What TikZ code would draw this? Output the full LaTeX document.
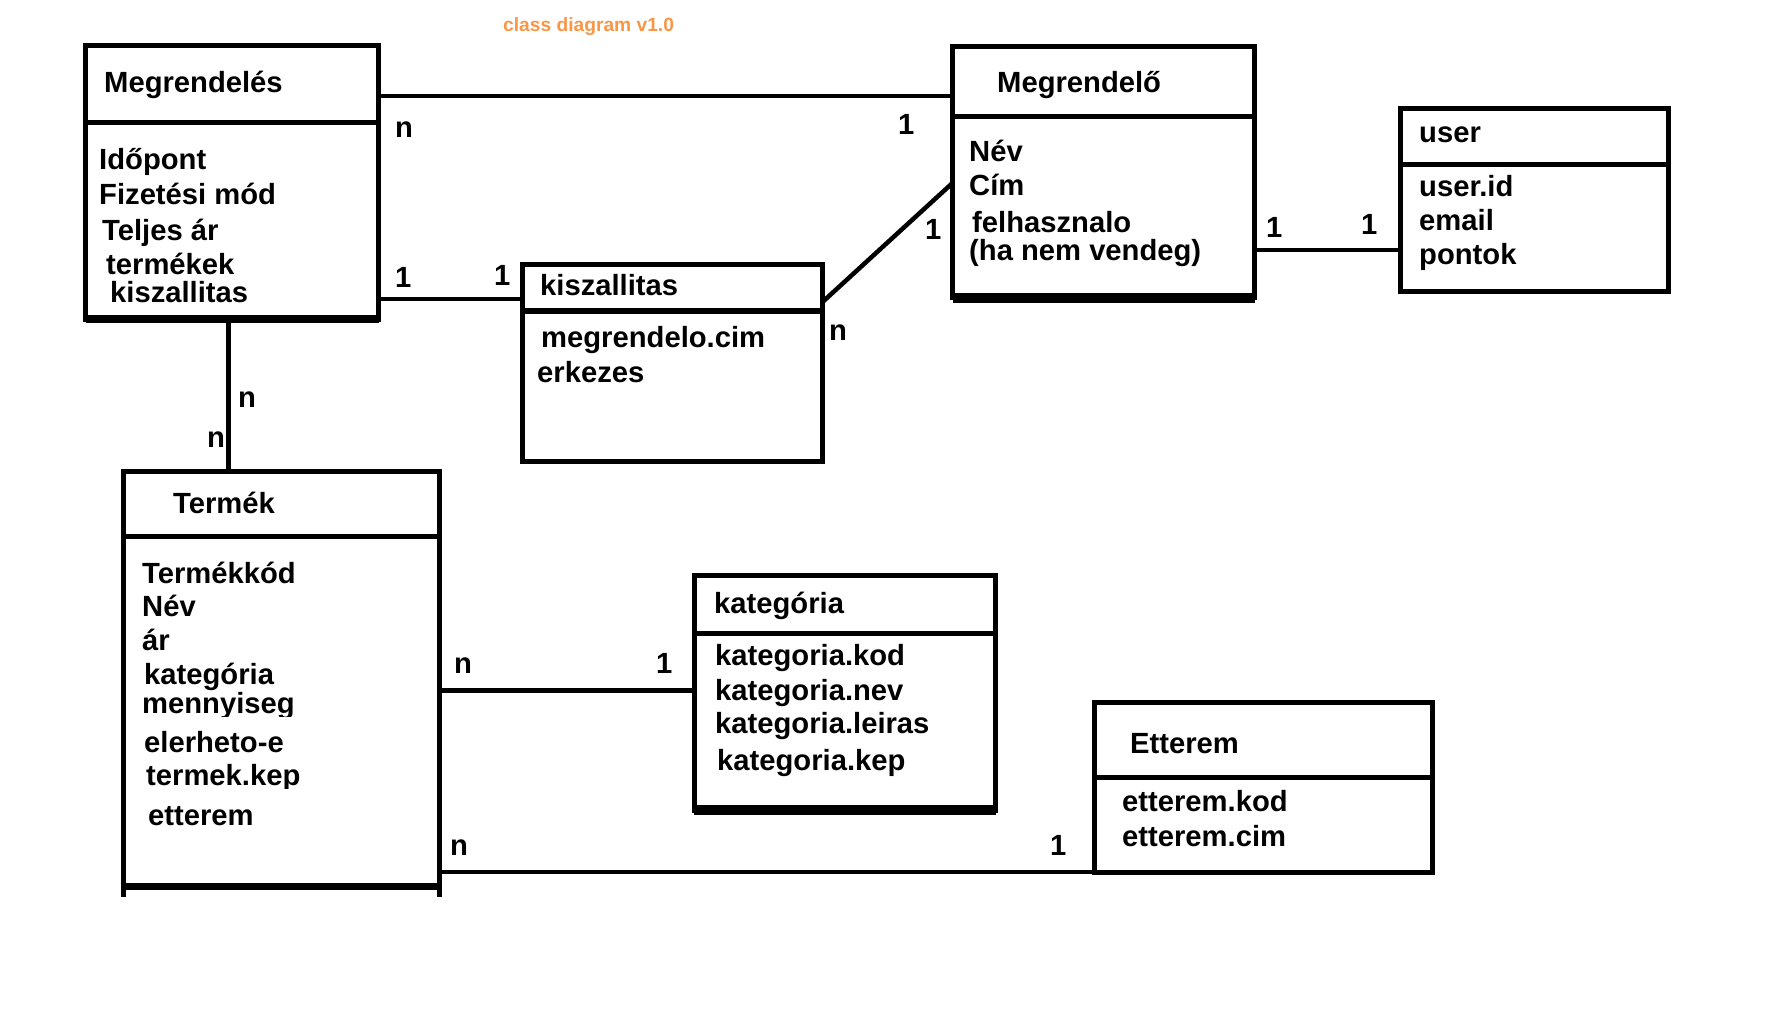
\documentclass[tikz,border=0pt]{standalone}
\usepackage{fontspec}
\setmainfont{Liberation Sans}
\definecolor{titleorange}{RGB}{247,150,70}
\tikzset{
  cls/.style={draw, rectangle, line width=5pt, inner sep=0pt, outer sep=0pt, anchor=north west},
  txt/.style={anchor=base west, inner sep=0pt, font=\bfseries\fontsize{29.2}{34}\selectfont},
  conn/.style={line width=4.5pt},
  divline/.style={line width=5pt}
}

\begin{document}
\begin{tikzpicture}[x=1pt,y=-1pt]
\useasboundingbox (0,0) rectangle (1780,1016);
\node[anchor=base west, inner sep=0pt, text=titleorange, font=\bfseries\fontsize{19.2}{23}\selectfont] (title) at (503,32) {class diagram v1.0};

\node[cls, minimum width=293pt, minimum height=273.5pt] (megrendeles) at (85.5,45.5) {};
\node[cls, minimum width=302pt, minimum height=251.5pt] (megrendelo) at (952.5,46.5) {};
\node[cls, minimum width=268pt, minimum height=183pt] (user) at (1400.5,108.5) {};
\node[cls, minimum width=300.5pt, minimum height=196.5pt] (kiszallitas) at (522,265) {};
\node[cls, minimum width=316pt, minimum height=415pt] (termek) at (123,471.5) {};
\node[cls, minimum width=301.5pt, minimum height=234.5pt] (kategoria) at (694,575.5) {};
\node[cls, minimum width=338.5pt, minimum height=170.5pt] (etterem) at (1094,702) {};

\draw[divline] (megrendeles.west |- 0,122.5) -- (megrendeles.east |- 0,122.5);
\draw[divline] (megrendelo.west |- 0,116.5) -- (megrendelo.east |- 0,116.5);
\draw[divline] (user.west |- 0,164.5) -- (user.east |- 0,164.5);
\draw[divline] (kiszallitas.west |- 0,311) -- (kiszallitas.east |- 0,311);
\draw[divline] (termek.west |- 0,536.5) -- (termek.east |- 0,536.5);
\draw[divline] (kategoria.west |- 0,633.5) -- (kategoria.east |- 0,633.5);
\draw[divline] (etterem.west |- 0,777.5) -- (etterem.east |- 0,777.5);

\draw[line width=8pt] (megrendeles.south west) -- (megrendeles.south east);
\draw[line width=10pt] (megrendelo.south west) -- (megrendelo.south east);
\draw[line width=10pt] (kategoria.south west) -- (kategoria.south east);
\draw[line width=7pt] (termek.south west) -- (termek.south east);
\draw[line width=5pt] (termek.south west) -- ++(0,10.5);
\draw[line width=5pt] (termek.south east) -- ++(0,10.5);

\draw[conn] (megrendeles.east |- 0,96) -- (megrendelo.west |- 0,96);
\draw[conn] (megrendeles.east |- 0,299) -- (kiszallitas.west |- 0,299);
\draw[conn] (kiszallitas.east |- 0,302) -- (megrendelo.west |- 0,183);
\draw[conn] (megrendelo.east |- 0,250) -- (user.west |- 0,250);
\draw[line width=5pt] (megrendeles.south -| 228,0) -- (termek.north -| 228,0);
\draw[conn] (termek.east |- 0,690.5) -- (kategoria.west |- 0,690.5);
\draw[conn] (termek.east |- 0,872) -- (etterem.west |- 0,872);

\foreach \x/\y/\t [count=\i] in {104/93/Megrendelés, 99/170/Időpont, 99/205/Fizetési mód,
    102/241/Teljes ár, 106/275/termékek, 110/302/kiszallitas}
  \node[txt] (megrendeles\i) at (\x,\y) {\t};
\foreach \x/\y/\t [count=\i] in {997/93/Megrendelő, 969/162/Név, 969/196/Cím,
    972/233/felhasznalo, 969/261/{(ha nem vendeg)}}
  \node[txt] (megrendelo\i) at (\x,\y) {\t};
\foreach \x/\y/\t [count=\i] in {1419/143/user, 1419/197/user.id, 1419/231/email, 1419/265/pontok}
  \node[txt] (user\i) at (\x,\y) {\t};
\foreach \x/\y/\t [count=\i] in {540/296/kiszallitas, 541/347/megrendelo.cim, 537/382/erkezes}
  \node[txt] (kiszallitas\i) at (\x,\y) {\t};
\foreach \x/\y/\t [count=\i] in {173/513/Termék, 142/583/Termékkód, 142/616/Név, 142/650/ár,
    144/684/kategória, 144/752/elerheto-e, 148/825/etterem}
  \node[txt] (termek\i) at (\x,\y) {\t};
\begin{scope}
\clip (130,0) rectangle (430,716);
\node[txt] (termek8) at (142,713) {mennyiseg};
\end{scope}
\begin{scope}
\clip (130,760) rectangle (430,788);
\node[txt] (termek9) at (146,785) {termek.kep};
\end{scope}
\foreach \x/\y/\t [count=\i] in {714/613/kategória, 715/665/kategoria.kod, 715/700/kategoria.nev,
    715/733/kategoria.leiras, 717/770/kategoria.kep}
  \node[txt] (kategoria\i) at (\x,\y) {\t};
\foreach \x/\y/\t [count=\i] in {1130/753/Etterem, 1122/811/etterem.kod, 1122/846/etterem.cim}
  \node[txt] (etterem\i) at (\x,\y) {\t};

\foreach \x/\y/\t [count=\i] in {395/138/n, 898/135/1, 395/288/1, 494/286/1, 925/240/1, 829/340/n,
    1266/238/1, 1361/235/1, 238/407/n, 207/447/n, 454/673/n, 656/673/1, 450/855/n, 1050/855/1}
  \node[txt] (mult\i) at (\x,\y) {\t};
\end{tikzpicture}
\end{document}
